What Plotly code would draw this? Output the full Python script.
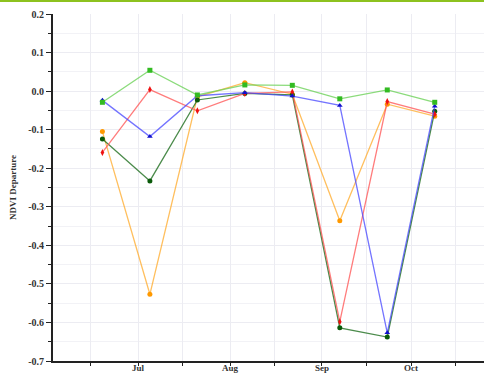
import plotly.graph_objects as go

dates = ["2015-06-19", "2015-07-05", "2015-07-21", "2015-08-06",
         "2015-08-22", "2015-09-07", "2015-09-23", "2015-10-09"]

orange_vals = [-0.105, -0.527, -0.015, 0.022, -0.008, -0.336, -0.034, -0.065]
darkgreen_vals = [-0.124, -0.233, -0.023, -0.006, -0.010, -0.614, -0.638, -0.052]
red_vals = [-0.159, 0.004, -0.051, -0.006, -0.002, -0.598, -0.027, -0.060]
blue_vals = [-0.024, -0.118, -0.012, -0.004, -0.013, -0.037, -0.627, -0.039]
green_vals = [-0.029, 0.054, -0.010, 0.016, 0.015, -0.020, 0.003, -0.029]

tick_dates = ["2015-06-15", "2015-07-01", "2015-07-16", "2015-08-01", "2015-08-16",
              "2015-09-01", "2015-09-16", "2015-10-01", "2015-10-16"]
tick_labels = ["", "Jul", "", "Aug", "", "Sep", "", "Oct", ""]

y_tick_vals = [0.2, 0.1, 0.0, -0.1, -0.2, -0.3, -0.4, -0.5, -0.6, -0.7]
y_tick_labels = ["0.2", "0.1", "0.0", "-0.1", "-0.2", "-0.3", "-0.4", "-0.5", "-0.6", "-0.7"]

series = [
    ("Orange", orange_vals, "rgba(255,170,40,0.75)", "#ff9900", "circle"),
    ("Dark green", darkgreen_vals, "rgba(30,110,30,0.8)", "#0a5a0a", "circle"),
    ("Red", red_vals, "rgba(255,80,80,0.75)", "#ee1111", "diamond-tall"),
    ("Blue", blue_vals, "rgba(70,70,255,0.75)", "#1010cc", "triangle-up"),
    ("Green", green_vals, "rgba(110,210,90,0.8)", "#33bb22", "square"),
]

fig = go.Figure()
for name, vals, lc, mc, sym in series:
    fig.add_trace(go.Scatter(
        x=dates, y=vals, mode="lines+markers", name=name,
        line=dict(color=lc, width=1.3),
        marker=dict(color=mc, symbol=sym, size=5),
    ))

font_bold = dict(family="Liberation Serif", size=10, color="#333333", weight="bold")

fig.update_layout(
    width=484, height=374,
    margin=dict(l=53, r=0, t=14, b=13),
    paper_bgcolor="white", plot_bgcolor="white",
    showlegend=False,
)
fig.add_shape(type="rect", xref="paper", yref="paper",
              x0=-53/431, x1=1.0, y0=1 + 12/347, y1=1 + 14.5/347,
              fillcolor="#8dc21f", line=dict(width=0), layer="above")

fig.update_xaxes(
    type="date", automargin=False,
    range=["2015-06-02 08:24", "2015-10-25 14:24"],
    tickvals=tick_dates, ticktext=tick_labels,
    tickfont=dict(family="Liberation Serif", size=9, color="#333333", weight="bold"),
    ticklabelstandoff=-6,
    showline=True, linecolor="#222222", linewidth=1.5,
    ticks="outside", ticklen=3, tickcolor="#222222",
    showgrid=True, gridcolor="#ececf2", gridwidth=1,
    zeroline=False,
)
fig.update_yaxes(
    range=[-0.7, 0.2], automargin=False,
    tickvals=y_tick_vals, ticktext=y_tick_labels,
    tickfont=font_bold,
    title=dict(text="NDVI Departure", font=dict(family="Liberation Serif", size=9,
               color="#333333", weight="bold"), standoff=10),
    showline=True, linecolor="#222222", linewidth=2,
    ticks="outside", ticklen=5, tickcolor="#222222",
    showgrid=True, gridcolor="#ececf2", gridwidth=1,
    minor=dict(dtick=0.05, tick0=0, ticks="outside", ticklen=3, tickcolor="#222222",
               showgrid=True, gridcolor="#f2f2f6"),
    zeroline=False,
)

fig.write_html("out.html", config={"displayModeBar": False},
               post_script="document.body.style.margin='0';document.body.style.overflow='hidden';")
